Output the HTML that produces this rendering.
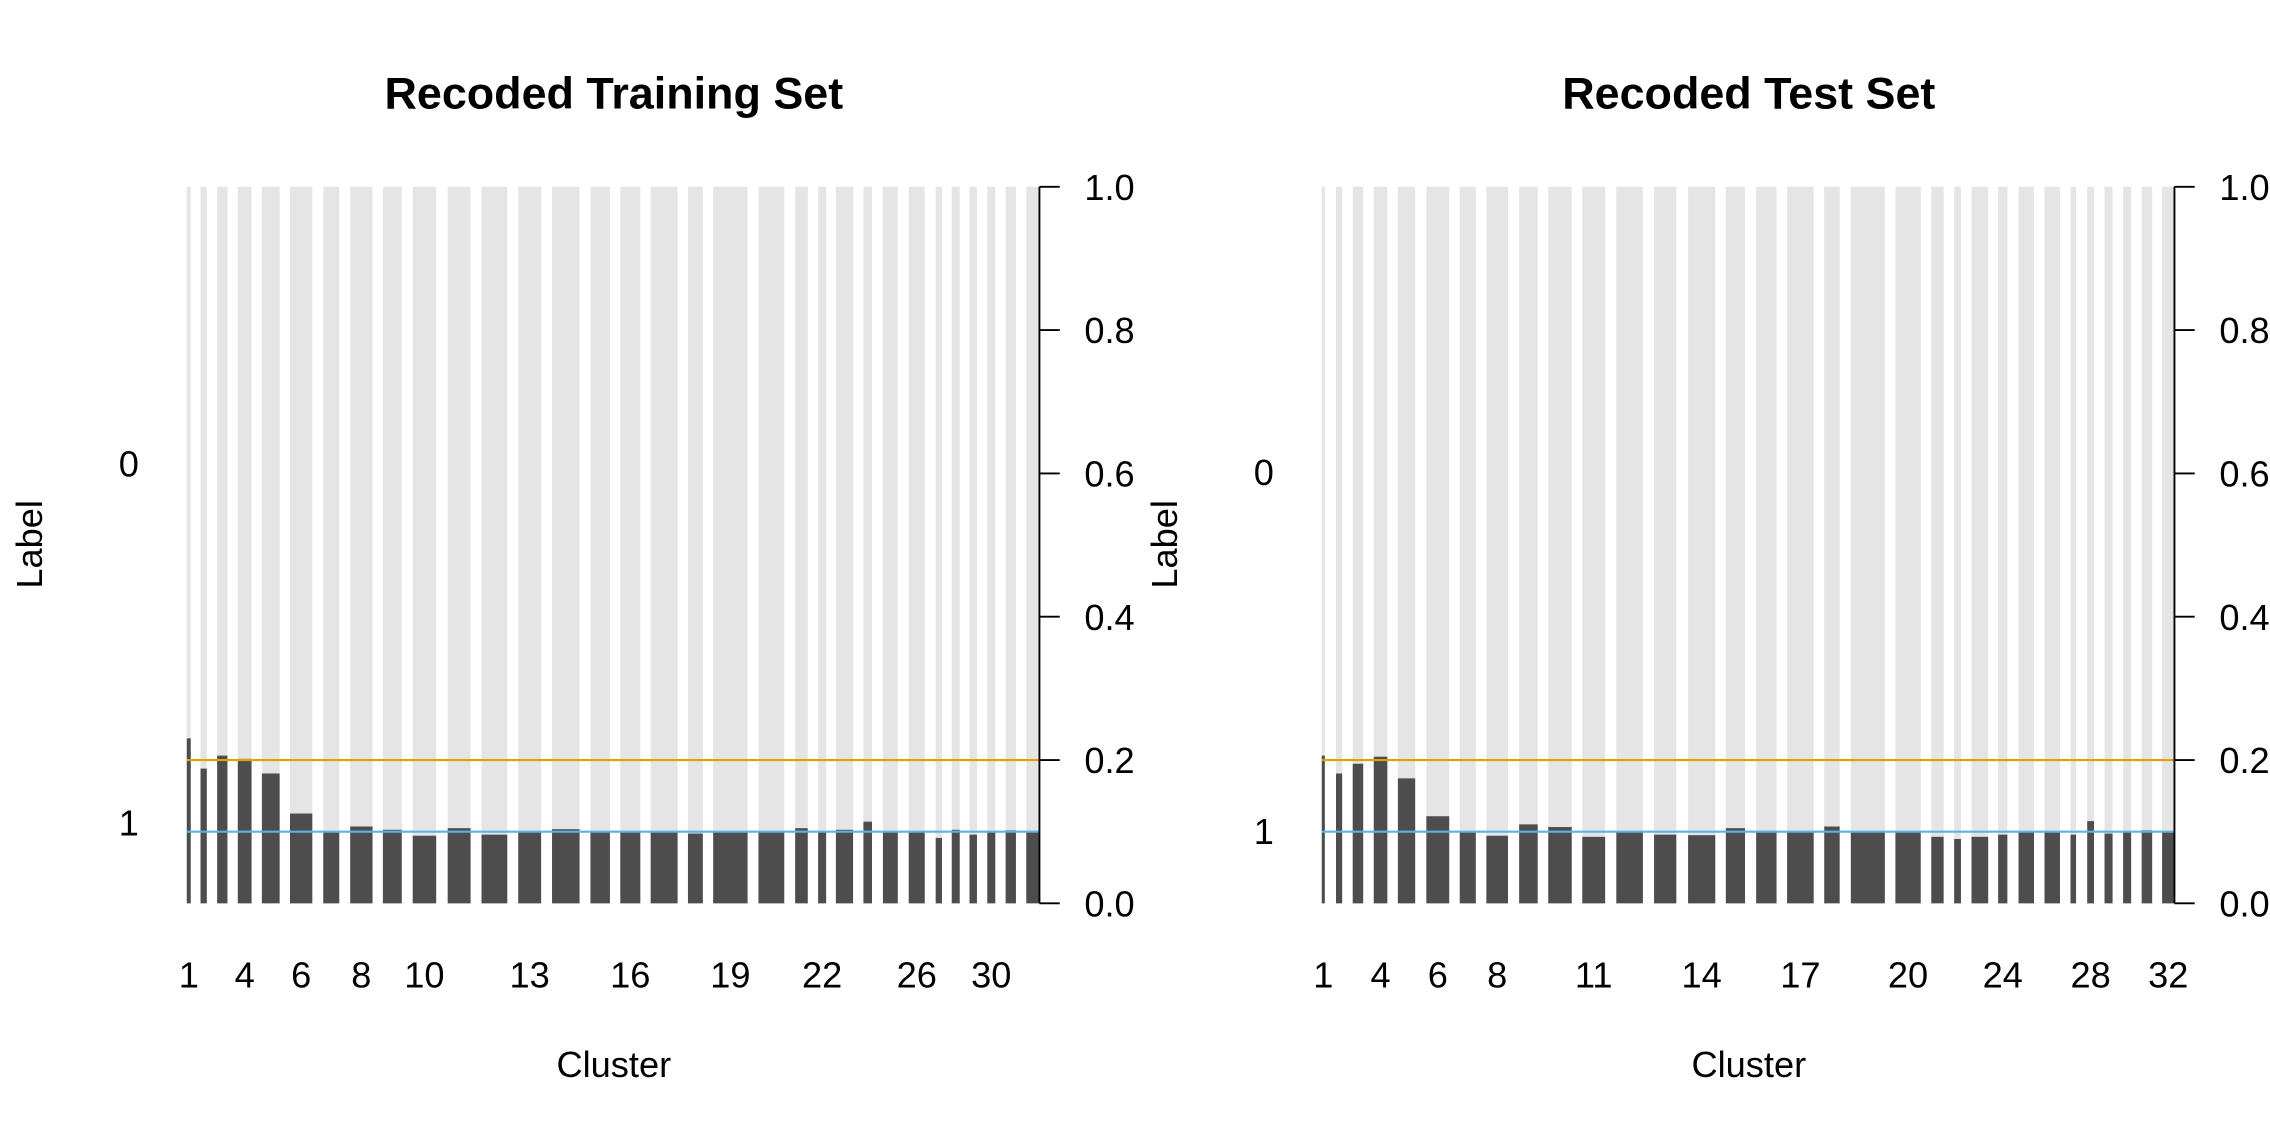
<!DOCTYPE html>
<html><head><meta charset="utf-8"><style>
html,body{margin:0;padding:0;background:#fff;}
svg{display:block;}
text{font-family:"Liberation Sans",Arial,sans-serif;fill:#000;}
</style></head><body>
<svg id="s" width="2270" height="1135" viewBox="0 0 1568 784" xmlns="http://www.w3.org/2000/svg">
<rect width="1568" height="784" fill="#fff"/>
<g id="g"></g>
<text x="424" y="75" font-size="31" font-weight="bold" text-anchor="middle">Recoded Training Set</text>
<text x="1208" y="75" font-size="31" font-weight="bold" text-anchor="middle">Recoded Test Set</text>
<text x="424" y="744" font-size="25" text-anchor="middle">Cluster</text>
<text x="1208" y="744" font-size="25" text-anchor="middle">Cluster</text>
<text transform="translate(29,376) rotate(-90)" font-size="25" text-anchor="middle">Label</text>
<text transform="translate(813,376) rotate(-90)" font-size="25" text-anchor="middle">Label</text>
<text x="89" y="329" font-size="25" text-anchor="middle">0</text>
<text x="89" y="577" font-size="25" text-anchor="middle">1</text>
<text x="873" y="335" font-size="25" text-anchor="middle">0</text>
<text x="873" y="583" font-size="25" text-anchor="middle">1</text>
</svg>
<script>
var L=[[28,35,1066],[52,63,1122],[81,99,1098],[117,141,1104],[159,190,1131],[208,247,1205],[266,294,1240],[313,352,1229],[370,403,1235],[422,463,1246],[483,523,1232],[542,587,1244],[606,646,1238],[665,713,1234],[732,766,1238],[784,819,1238],[837,884,1238],[902,928,1242],[946,1006,1238],[1025,1070,1238],[1089,1111,1232],[1129,1143,1238],[1160,1190,1235],[1208,1223,1220],[1242,1268,1238],[1287,1315,1238],[1334,1345,1250],[1362,1376,1235],[1393,1406,1244],[1424,1438,1238],[1456,1474,1236],[1492,1515,1238]];
var R=[[35,40,1098],[58,68,1131],[85,102,1113],[119,141,1100],[158,186,1140],[204,241,1210],[258,284,1238],[301,336,1246],[354,384,1225],[401,439,1230],[456,493,1248],[511,554,1238],[572,608,1244],[627,671,1245],[688,719,1232],[737,770,1237],[787,830,1238],[847,872,1229],[890,945,1238],[962,1003,1238],[1020,1040,1248],[1057,1068,1252],[1085,1112,1248],[1128,1143,1244],[1161,1186,1240],[1203,1228,1238],[1245,1254,1244],[1272,1283,1219],[1300,1313,1242],[1330,1343,1238],[1360,1377,1236],[1393,1413,1238]];
var g=document.getElementById('g'),h='';
function Y(zy){return 129+(zy-47)*495/1324;}
function panel(B,z0,z1,x0,labs){
 var x1=x0+589,k=589/(z1-z0);
 B.forEach(function(b,i){
  var a=x0+(b[0]-z0)*k,w=(b[1]-b[0])*k,t=Y(b[2]);
  h+='<rect x="'+a+'" y="129" width="'+w+'" height="'+(t-129)+'" fill="#e5e5e5"/>';
  h+='<rect x="'+a+'" y="'+t+'" width="'+w+'" height="'+(624-t)+'" fill="#4d4d4d"/>';
  if(labs.indexOf(i+1)>=0)h+='<text x="'+(a+w/2)+'" y="682" font-size="25" text-anchor="middle">'+(i+1)+'</text>';
 });
 h+='<line x1="'+x0+'" x2="'+x1+'" y1="525" y2="525" stroke="#E69F00" stroke-width="1.5"/>';
 h+='<line x1="'+x0+'" x2="'+x1+'" y1="574.5" y2="574.5" stroke="#56B4E9" stroke-width="1.5"/>';
 h+='<line x1="'+x1+'" x2="'+x1+'" y1="129" y2="624" stroke="#000" stroke-width="1.3"/>';
 for(var j=0;j<=5;j++){var y=624-j*99;
  h+='<line x1="'+x1+'" x2="'+(x1+14)+'" y1="'+y+'" y2="'+y+'" stroke="#000" stroke-width="1.3"/>';
  h+='<text x="'+(x1+31)+'" y="'+(y+9)+'" font-size="25">'+(j*0.2).toFixed(1)+'</text>';}
}
panel(L,28,1515,129,[1,4,6,8,10,13,16,19,22,26,30]);
panel(R,35,1413,913,[1,4,6,8,11,14,17,20,24,28,32]);
g.innerHTML=h;
</script>
</body></html>
